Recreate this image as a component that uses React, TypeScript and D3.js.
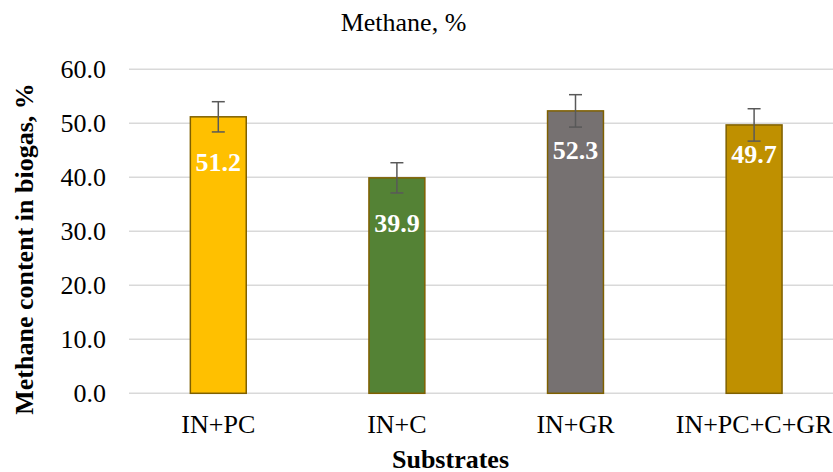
import React from "react";
import * as d3 from "d3";

const categories = ["IN+PC", "IN+C", "IN+GR", "IN+PC+C+GR"];
const values = [51.2, 39.9, 52.3, 49.7];
const errors = [2.8, 2.8, 3.0, 3.0];
const yTicks = [0, 10, 20, 30, 40, 50, 60];
const barColors = ["#FFC000", "#548235", "#767171", "#BF9000"];
// label baseline drop below bar top, in data units
const labelDrop = [10, 10, 9, 7];

const W = 833;
const H = 472;
const FONT = "Liberation Serif";

export default function App() {
  const x = d3
    .scaleBand<string>()
    .domain(categories)
    .range([129, 843.4])
    .paddingInner(0.687)
    .paddingOuter(0.3435);
  const y = d3.scaleLinear().domain([0, 60]).range([393.3, 69.3]);
  const bw = x.bandwidth();
  const fmt = d3.format(".1f");

  return (
    <svg width={W} height={H} style={{ position: "absolute", left: 0, top: 0, background: "#fff" }}>
      <rect x={0} y={0} width={W} height={H} fill="#fff" />
      <text x={403.5} y={30.5} fontSize={26} textAnchor="middle" fill="#000" style={{ fontFamily: FONT }}>
        Methane, %
      </text>
      {yTicks.map((t) => (
        <g key={t}>
          <line x1={129} x2={W} y1={y(t)} y2={y(t)} stroke="#D9D9D9" strokeWidth={1.5} />
          <text x={106} y={y(t) + 8.5} fontSize={26} textAnchor="end" fill="#000" style={{ fontFamily: FONT }}>
            {fmt(t)}
          </text>
        </g>
      ))}
      {categories.map((c, i) => {
        const x0 = x(c)!;
        const cx = x0 + bw / 2;
        const v = values[i];
        const e = errors[i];
        return (
          <g key={c}>
            <rect
              x={x0}
              y={y(v)}
              width={bw}
              height={y(0) - y(v)}
              fill={barColors[i]}
              stroke="#7F6000"
              strokeWidth={1.5}
            />
            <g stroke="#595959" strokeWidth={1.5}>
              <line x1={cx} x2={cx} y1={y(v + e)} y2={y(v - e)} />
              <line x1={cx - 6.5} x2={cx + 6.5} y1={y(v + e)} y2={y(v + e)} />
              <line x1={cx - 6.5} x2={cx + 6.5} y1={y(v - e)} y2={y(v - e)} />
            </g>
            <text
              x={cx}
              y={y(v - labelDrop[i])}
              fontSize={26}
              fontWeight="bold"
              textAnchor="middle"
              fill="#fff"
              style={{ fontFamily: FONT }}
            >
              {fmt(v)}
            </text>
            <text x={cx} y={433.3} fontSize={26} textAnchor="middle" fill="#000" style={{ fontFamily: FONT }}>
              {c}
            </text>
          </g>
        );
      })}
      <text
        transform={`translate(33.3, 249) rotate(-90)`}
        fontSize={26}
        fontWeight="bold"
        textAnchor="middle"
        fill="#000"
        style={{ fontFamily: FONT }}
      >
        Methane content in biogas, %
      </text>
      <text
        x={450.5}
        y={468}
        fontSize={26}
        fontWeight="bold"
        textAnchor="middle"
        fill="#000"
        style={{ fontFamily: FONT }}
      >
        Substrates
      </text>
    </svg>
  );
}
